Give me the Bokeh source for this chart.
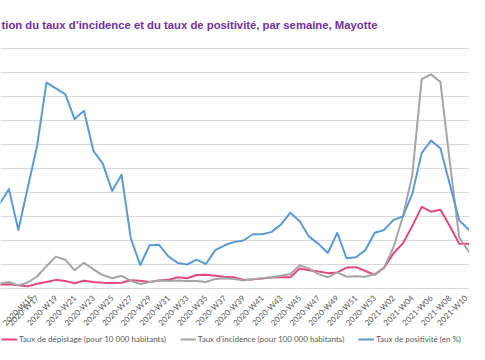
from math import pi
from bokeh.plotting import figure
from bokeh.layouts import column
from bokeh.models import Range1d, FixedTicker, Legend, LegendItem
from bokeh.embed import file_html
from bokeh.resources import INLINE

weeks = [
    "2020-W13", "2020-W14", "2020-W15", "2020-W16", "2020-W17", "2020-W18", "2020-W19",
    "2020-W20", "2020-W21", "2020-W22", "2020-W23", "2020-W24", "2020-W25", "2020-W26",
    "2020-W27", "2020-W28", "2020-W29", "2020-W30", "2020-W31", "2020-W32", "2020-W33",
    "2020-W34", "2020-W35", "2020-W36", "2020-W37", "2020-W38", "2020-W39", "2020-W40",
    "2020-W41", "2020-W42", "2020-W43", "2020-W44", "2020-W45", "2020-W46", "2020-W47",
    "2020-W48", "2020-W49", "2020-W50", "2020-W51", "2020-W52", "2020-W53",
    "2021-W01", "2021-W02", "2021-W03", "2021-W04", "2021-W05", "2021-W06", "2021-W07",
    "2021-W08", "2021-W09", "2021-W10", "2021-W11",
]

# Taux de dépistage (pour 10 000 habitants)
depistage = [
    16, 18, 13, 9, 20, 27, 36, 31, 22, 32,
    27, 24, 23, 24, 34, 32, 27, 33, 36, 47,
    43, 56, 57, 53, 49, 47, 36, 38, 42, 46,
    47, 47, 83, 76, 71, 64, 67, 87, 89, 73,
    57,
    87, 147, 188, 260, 340, 320, 328, 260, 186, 186, 132,
]

# Taux d'incidence (pour 100 000 habitants)
incidence = [
    20, 27, 13, 25, 50, 93, 133, 120, 76, 107,
    80, 56, 43, 53, 32, 19, 27, 33, 31, 33,
    31, 31, 27, 40, 43, 40, 33, 40, 43, 47,
    53, 60, 97, 83, 60, 47, 67, 49, 51, 49,
    60,
    87, 172, 300, 472, 872, 892, 860, 528, 212, 156, 100,
]

# Taux de positivité (en %)
positivite = [
    17.6, 20.7, 12.2, 21.0, 29.7, 42.9, 41.7, 40.5, 35.3, 37.0,
    28.7, 26.0, 20.3, 23.7, 10.4, 4.9, 9.0, 9.1, 6.7, 5.3,
    5.0, 6.0, 5.1, 8.0, 9.0, 9.7, 10.0, 11.3, 11.3, 11.8,
    13.3, 15.8, 14.0, 10.8, 9.3, 7.4, 11.6, 6.3, 6.5, 8.0,
    11.6,
    12.2, 14.3, 15.0, 19.7, 28.2, 30.8, 29.2, 21.7, 14.2, 12.3, 9.7,
]

y_ticks = [0, 100, 200, 300, 400, 500, 600, 700, 800, 900, 1000]

title_text = "tion du taux d\u2019incidence et du taux de positivit\u00e9, par semaine, Mayotte"
labels = [
    "Taux de d\u00e9pistage (pour 10\u00a0000 habitants)",
    "Taux d\u2019incidence (pour 100\u00a0000 habitants)",
    "Taux de positivit\u00e9 (en %)",
]
colors = ["#E4477F", "#A5A5A5", "#5B9BD5"]

xs = list(range(len(weeks)))

p = figure(width=469, height=334, output_backend="svg", toolbar_location=None,
           x_range=Range1d(0.1, 50.1), y_range=Range1d(0, 1004),
           y_axis_location=None, min_border_left=0, min_border_right=0,
           min_border_top=44, min_border_bottom=39, title=title_text)
p.extra_y_ranges = {"pos": Range1d(0, 50.2)}
p.outline_line_color = None
p.background_fill_color = "white"
p.border_fill_color = "white"

p.title.text_font = "Liberation Sans"
p.title.text_font_style = "bold"
p.title.text_font_size = "11.3px"
p.title.text_color = "#7030A0"
p.title.align = "left"
p.title.offset = 1
p.title.standoff = 33

p.xgrid.visible = False
p.ygrid.ticker = FixedTicker(ticks=y_ticks)
p.ygrid.grid_line_color = "#D9D9D9"
p.ygrid.grid_line_width = 1

ax = p.xaxis[0]
ax.ticker = FixedTicker(ticks=[i for i in xs if i % 2 == 0])
ax.major_label_overrides = {i: w for i, w in enumerate(weeks)}
ax.major_label_orientation = pi / 4
ax.major_tick_line_color = None
ax.minor_tick_line_color = None
ax.major_tick_out = 0
ax.major_tick_in = 0
ax.axis_line_color = "#D9D9D9"
ax.major_label_text_font = "Lato"
ax.major_label_text_font_size = "8px"
ax.major_label_text_color = "#595959"
ax.major_label_standoff = 8

r1 = p.line(xs, depistage, line_color=colors[0], line_width=2, line_join="round")
r2 = p.line(xs, incidence, line_color=colors[1], line_width=2, line_join="round")
r3 = p.line(xs, positivite, line_color=colors[2], line_width=2, line_join="round",
            y_range_name="pos")

# legend strip below the chart (single-point proxies: nothing drawn in the strip itself)
lf = figure(width=469, height=10, output_backend="svg", toolbar_location=None,
            x_range=Range1d(0, 1), y_range=Range1d(0, 1),
            x_axis_location=None, y_axis_location=None,
            min_border_left=0, min_border_right=0, min_border_top=0, min_border_bottom=0)
lf.outline_line_color = None
lf.xgrid.visible = False
lf.ygrid.visible = False
lr = [lf.line([0.5], [0.5], line_color=c, line_width=2) for c in colors]

legend = Legend(items=[LegendItem(label=lab, renderers=[r]) for lab, r in zip(labels, lr)],
                orientation="horizontal", location=(1, 0),
                glyph_width=16, glyph_height=10, label_height=10, label_standoff=2,
                spacing=14, padding=0, margin=0, border_line_color=None,
                background_fill_alpha=0, label_text_font="Lato",
                label_text_font_size="8px", label_text_color="#595959")
lf.add_layout(legend, "center")

layout = column(p, lf, spacing=0)
open("out.html", "w").write(file_html(layout, INLINE))
